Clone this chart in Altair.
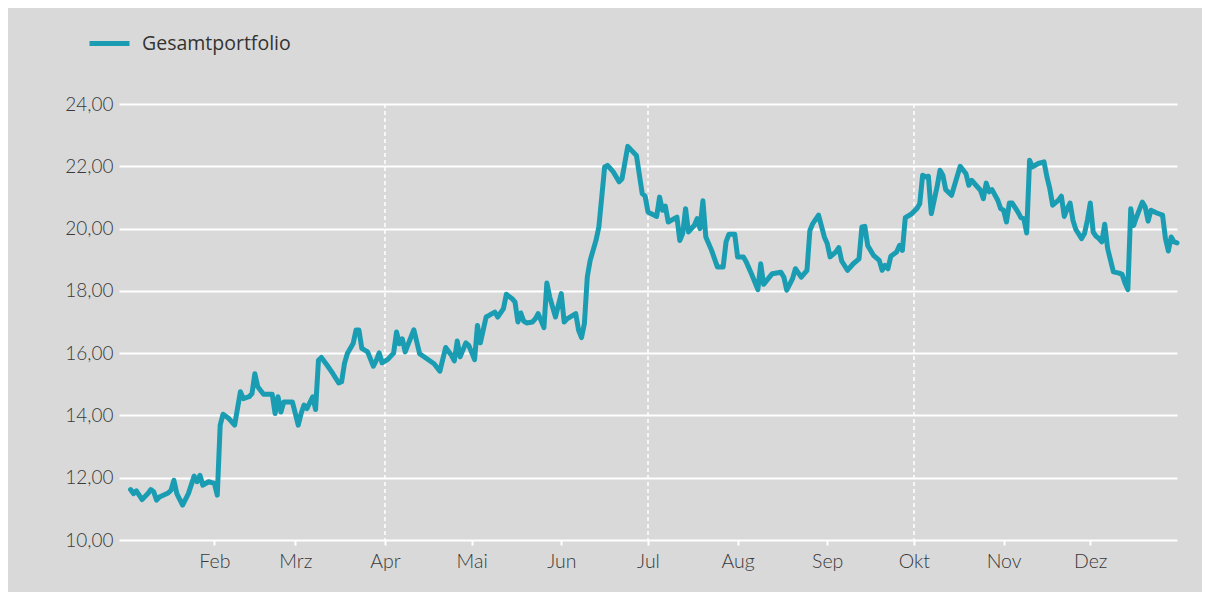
import altair as alt
import pandas as pd

# Day offsets from 2023-01-01 and portfolio values
days = [2, 3, 4, 6, 8, 9, 10, 11, 12, 15, 16, 17, 18, 20, 22, 24, 25, 26, 27, 29,
        31, 32, 33, 34, 36, 38, 40, 41, 43, 44, 45, 46, 48, 49, 51, 52, 53, 54, 55, 56,
        58, 59, 60, 61, 62, 63, 65, 66, 67, 68, 70, 72, 74, 75, 76, 77, 79, 80, 81, 82,
        84, 86, 87, 88, 89, 91, 93, 94, 95, 96, 97, 100, 102, 104, 107, 109, 111, 113, 114, 115,
        116, 118, 119, 121, 122, 123, 125, 126, 128, 129, 131, 132, 134, 135, 136, 137, 138, 139, 141, 142,
        143, 145, 146, 147, 149, 150, 151, 152, 153, 156, 157, 158, 159, 160, 161, 163, 164, 166, 167, 169,
        171, 172, 174, 175, 177, 179, 180, 181, 182, 184, 185, 186, 187, 188, 191, 192, 193, 194, 195, 196,
        197, 198, 199, 200, 201, 203, 205, 207, 208, 209, 211, 212, 214, 215, 217, 219, 220, 221, 223, 224,
        227, 228, 229, 231, 232, 234, 236, 237, 238, 240, 242, 243, 244, 246, 247, 248, 250, 252, 254, 255,
        256, 257, 259, 261, 262, 263, 264, 265, 267, 268, 269, 270, 272, 274, 275, 276, 277, 278, 279, 281,
        282, 283, 284, 286, 289, 291, 292, 293, 294, 296, 297, 298, 299, 300, 302, 303, 304, 305, 306, 307,
        309, 310, 311, 312, 313, 314, 316, 318, 319, 320, 321, 323, 324, 325, 326, 327, 328, 329, 331, 332,
        333, 334, 335, 336, 337, 338, 339, 340, 342, 344, 345, 346, 347, 348, 349, 350, 352, 353, 354, 355,
        357, 359, 360, 361, 362, 363, 364]
values = [11.62, 11.49, 11.58, 11.30, 11.49, 11.62, 11.55, 11.28, 11.38, 11.51, 11.60, 11.92, 11.49, 11.12, 11.49, 12.05, 11.87, 12.08, 11.76, 11.87,
          11.82, 11.44, 13.69, 14.04, 13.90, 13.69, 14.76, 14.54, 14.60, 14.70, 15.34, 14.92, 14.68, 14.68, 14.68, 14.06, 14.60, 14.11, 14.43, 14.43,
          14.43, 14.06, 13.69, 14.06, 14.33, 14.22, 14.60, 14.19, 15.77, 15.86, 15.61, 15.34, 15.04, 15.08, 15.67, 15.99, 16.31, 16.74, 16.74, 16.15,
          16.04, 15.58, 15.77, 16.01, 15.69, 15.80, 16.00, 16.68, 16.30, 16.46, 16.04, 16.75, 15.98, 15.85, 15.66, 15.42, 16.18, 15.93, 15.75, 16.39,
          15.88, 16.33, 16.25, 15.79, 16.89, 16.33, 17.16, 17.21, 17.32, 17.16, 17.43, 17.89, 17.75, 17.64, 17.00, 17.29, 17.03, 16.97, 17.00, 17.10,
          17.27, 16.82, 18.25, 17.80, 17.16, 17.54, 17.91, 17.00, 17.10, 17.27, 16.73, 16.50, 16.95, 18.45, 18.98, 19.62, 20.05, 21.98, 22.03, 21.82,
          21.50, 21.60, 22.64, 22.54, 22.35, 21.12, 21.04, 20.53, 20.48, 20.39, 21.01, 20.59, 20.72, 20.21, 20.37, 19.62, 19.84, 20.64, 19.89, 20.00,
          20.10, 20.32, 20.00, 20.89, 19.73, 19.30, 18.77, 18.77, 19.57, 19.82, 19.82, 19.09, 19.09, 18.93, 18.50, 18.04, 18.87, 18.21, 18.44, 18.55,
          18.60, 18.44, 18.02, 18.39, 18.71, 18.44, 18.66, 19.94, 20.16, 20.43, 19.73, 19.52, 19.09, 19.25, 19.39, 18.96, 18.66, 18.87, 19.03, 20.05,
          20.07, 19.46, 19.14, 18.98, 18.66, 18.82, 18.71, 19.11, 19.25, 19.46, 19.30, 20.35, 20.46, 20.64, 20.80, 21.71, 21.66, 21.68, 20.48, 21.34,
          21.87, 21.71, 21.25, 21.07, 22.00, 21.76, 21.39, 21.55, 21.44, 21.23, 20.96, 21.46, 21.18, 21.25, 20.91, 20.64, 20.59, 20.21, 20.82, 20.82,
          20.53, 20.35, 20.32, 19.86, 22.19, 21.98, 22.09, 22.14, 21.66, 21.28, 20.75, 20.91, 21.04, 20.39, 20.64, 20.82, 20.27, 19.97, 19.68, 19.84,
          20.27, 20.82, 19.89, 19.75, 19.68, 19.57, 20.14, 19.36, 18.61, 18.57, 18.53, 18.25, 18.04, 20.64, 20.10, 20.37, 20.85, 20.69, 20.24, 20.59,
          20.50, 20.43, 19.68, 19.28, 19.73, 19.57, 19.54]

series_name = "Gesamtportfolio"
month_ticks = ["2023-02-01", "2023-03-01", "2023-04-01", "2023-05-01", "2023-06-01", "2023-07-01",
               "2023-08-01", "2023-09-01", "2023-10-01", "2023-11-01", "2023-12-01"]
month_names = ["Jan", "Feb", "Mrz", "Apr", "Mai", "Jun", "Jul", "Aug", "Sep", "Okt", "Nov", "Dez"]
quarter_lines = ["2023-04-01", "2023-07-01", "2023-10-01"]
y_ticks = [10, 12, 14, 16, 18, 20, 22, 24]

base_date = pd.Timestamp("2023-01-01")
df = pd.DataFrame({
    "date": [(base_date + pd.Timedelta(days=d)).strftime("%Y-%m-%d") for d in days],
    "value": values,
    "series": series_name,
})
qdf = pd.DataFrame({"date": quarter_lines})

LINE = "#1a9db2"
BG = "#d9d9d9"
LABEL = "#3a3a3a"

xscale = alt.Scale(type="utc", domain=["2022-12-30", "2023-12-31"])
label_expr = "[" + ",".join("'%s'" % m for m in month_names) + "][utcmonth(datum.value)]"

line = alt.Chart(df).mark_line(strokeWidth=5, strokeJoin="round", strokeCap="round").encode(
    x=alt.X("date:T", scale=xscale,
            axis=alt.Axis(title=None, values=month_ticks, labelExpr=label_expr, grid=False,
                          domain=False, ticks=True, tickColor="white", tickWidth=2, tickSize=5,
                          labelFont="Lato", labelFontSize=19.5, labelFontWeight=300,
                          labelColor=LABEL, labelPadding=7)),
    y=alt.Y("value:Q", scale=alt.Scale(domain=[10, 24], nice=False, zero=False),
            axis=alt.Axis(title=None, values=y_ticks,
                          labelExpr="replace(format(datum.value, '.2f'), '.', ',')",
                          grid=True, gridColor="white", gridWidth=2, domain=False, ticks=False,
                          labelFont="Lato", labelFontSize=19, labelFontWeight=300,
                          labelColor=LABEL, labelPadding=6)),
    color=alt.Color("series:N", scale=alt.Scale(range=[LINE]),
                    legend=alt.Legend(title=None, orient="none", legendX=-32, legendY=-83,
                                      symbolType="stroke", symbolSize=1600, symbolStrokeWidth=5,
                                      labelFont="Open Sans", labelFontSize=19.5, labelColor="#333333",
                                      labelOffset=10)),
)

rules = alt.Chart(qdf).mark_rule(color="white", strokeWidth=1.5, strokeDash=[4, 3]).encode(
    x=alt.X("date:T", scale=xscale),
)

chart = alt.layer(rules, line).properties(
    width=1058, height=436,
    autosize=alt.AutoSizeParams(type="none"),
    padding={"left": 111, "top": 96, "right": 25, "bottom": 52},
    background=BG,
).configure_view(stroke=None, fill=BG)

chart.save("out.html", embed_options={"renderer": "svg", "actions": False})
